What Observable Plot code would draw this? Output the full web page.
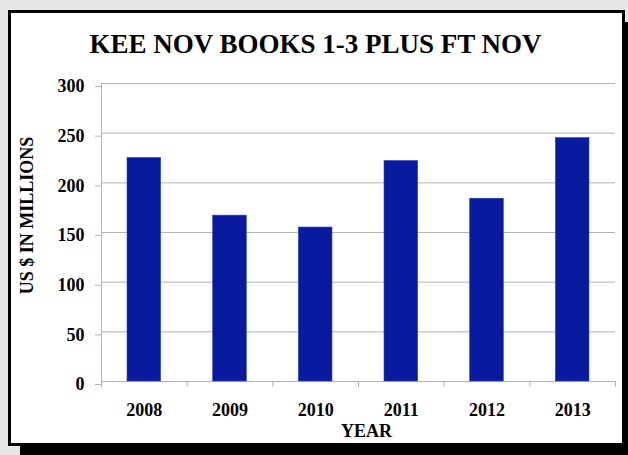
<!DOCTYPE html>
<html>
<head>
<meta charset="utf-8">
<script src="https://cdn.jsdelivr.net/npm/d3@7"></script>
<script src="https://cdn.jsdelivr.net/npm/@observablehq/plot@0.6"></script>
<style>
  html, body { margin: 0; padding: 0; width: 628px; height: 455px; overflow: hidden; background: #e6e6e6; }
  #frame { position: absolute; left: 8px; top: 10px; width: 617px; height: 436px; box-sizing: border-box;
           border: 3px solid #000; background: #fff; box-shadow: 12px 12px 0 #000; }
  #chart { position: absolute; left: 0; top: 0; }
</style>
</head>
<body>
<div id="frame"></div>
<div id="chart"></div>
<script>
const title = "KEE NOV BOOKS 1-3 PLUS FT NOV";
const xLabel = "YEAR";
const yLabel = "US $ IN MILLIONS";
const years = [2008, 2009, 2010, 2011, 2012, 2013];
const values = [225, 167, 155, 222, 184, 245];
const yTicks = [0, 50, 100, 150, 200, 250, 300];

const data = years.map((year, i) => ({year, value: values[i]}));
const bounds = [years[0] - 0.5, ...years.map(y => y + 0.5)];

const font = "'Liberation Serif', 'Times New Roman', serif";
const gray = "#b4b4b4";

const chart = Plot.plot({
  width: 628,
  height: 455,
  marginLeft: 101,
  marginRight: 13,
  marginTop: 83,
  marginBottom: 74,
  style: {background: "transparent", fontFamily: font, fontWeight: "bold", color: "#000"},
  x: {type: "linear", domain: [bounds[0], bounds[bounds.length - 1]]},
  y: {domain: [0, 300]},
  marks: [
    Plot.gridY(yTicks, {stroke: gray, strokeOpacity: 1}),
    Plot.ruleX([bounds[0]], {stroke: gray}),
    Plot.ruleY([0], {stroke: gray}),
    Plot.rectY(data, {x1: d => d.year - 0.5, x2: d => d.year + 0.5, y1: 0, y2: "value",
      insetLeft: 26, insetRight: 26, fill: "#0a1a9e", stroke: "#3346b8", strokeWidth: 0.6}),
    Plot.axisY(yTicks, {tickSize: 6, tickPadding: 11, stroke: gray, fill: "#000",
      fontSize: 18, fontWeight: "bold", label: null, dy: 3}),
    Plot.axisX(bounds, {tickSize: 6, stroke: gray, tickFormat: () => "", label: null}),
    Plot.axisX(years, {tickSize: 0, tickPadding: 22, fill: "#000", fontSize: 18, fontWeight: "bold",
      tickFormat: d => String(d), label: null}),
    Plot.text([title], {frameAnchor: "top", lineAnchor: "middle", textAnchor: "middle", dx: -43, dy: -39,
      fontSize: 27, fontWeight: "bold", fill: "#000"}),
    Plot.text([xLabel], {frameAnchor: "bottom", lineAnchor: "middle", textAnchor: "middle", dx: 8, dy: 50,
      fontSize: 18, fontWeight: "bold", fill: "#000"}),
    Plot.text([yLabel], {frameAnchor: "left", lineAnchor: "middle", textAnchor: "middle", rotate: -90, dx: -74, dy: -17,
      fontSize: 18, fontWeight: "bold", fill: "#000"})
  ]
});
document.getElementById("chart").appendChild(chart);
</script>
</body>
</html>
